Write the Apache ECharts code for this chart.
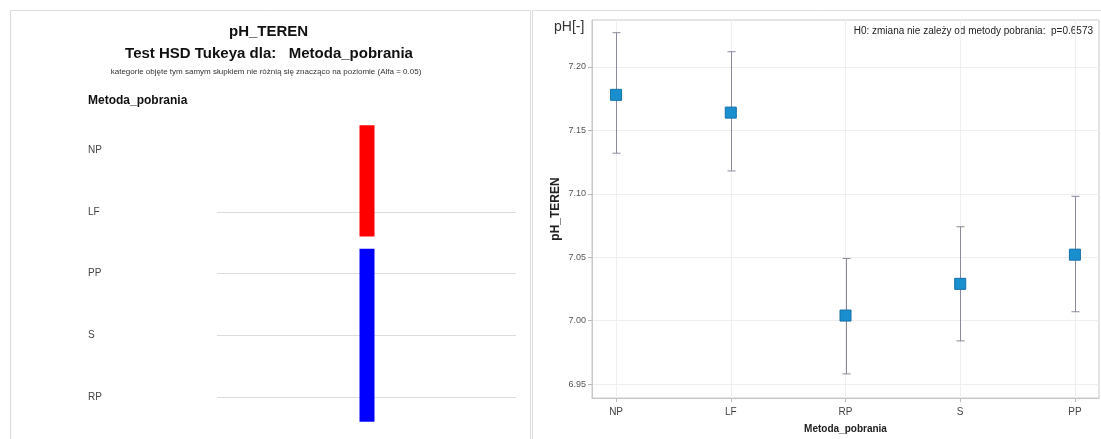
<!DOCTYPE html>
<html>
<head>
<meta charset="utf-8">
<script src="https://cdn.jsdelivr.net/npm/echarts@6/dist/echarts.min.js"></script>
<style>html,body{margin:0;padding:0;background:#fff;}#c{width:1101px;height:439px;}</style>
</head>
<body>
<div id="c"></div>
<script>
// ---- data ----
const tukeyRows = ['NP', 'LF', 'PP', 'S', 'RP'];
const groupStart = [0, 2];
const groupEnd = [1, 4];
const categories = ['NP', 'LF', 'RP', 'S', 'PP'];
const means = [7.178, 7.164, 7.004, 7.029, 7.052];
const upper = [7.227, 7.212, 7.049, 7.074, 7.098];
const lower = [7.132, 7.118, 6.958, 6.984, 7.007];
const yTicks = [6.95, 7.00, 7.05, 7.10, 7.15, 7.20];

const FONT = 'Arial, "Liberation Sans", sans-serif';
const chart = echarts.init(document.getElementById('c'));
const groupColors = ['#ff0000', '#0000ff'];

const option = {
  animation: false,
  backgroundColor: '#fff',
  textStyle: { fontFamily: FONT },
  graphic: [
    { type: 'rect', shape: { x: 10.5, y: 10.5, width: 520, height: 440 }, style: { fill: 'none', stroke: '#dcdcdc', lineWidth: 1 }, silent: true },
    { type: 'rect', shape: { x: 532.5, y: 10.5, width: 580, height: 440 }, style: { fill: 'none', stroke: '#dcdcdc', lineWidth: 1 }, silent: true },
    { type: 'text', left: 229, top: 24, style: { text: 'pH_TEREN', font: 'bold 15px ' + FONT, fill: '#111' } },
    { type: 'text', x: 269, y: 54, style: { text: 'Test HSD Tukeya dla:   Metoda_pobrania', font: 'bold 15px ' + FONT, fill: '#111', align: 'center', verticalAlign: 'middle' } },
    { type: 'text', x: 266, y: 72, style: { text: 'kategorie objęte tym samym słupkiem nie różnią się znacząco na poziomie (Alfa = 0.05)', font: '8px ' + FONT, fill: '#333', align: 'center', verticalAlign: 'middle' } },
    { type: 'text', x: 88, y: 101, style: { text: 'Metoda_pobrania', font: 'bold 12px ' + FONT, fill: '#111', align: 'left', verticalAlign: 'middle' } },
    { type: 'text', x: 554, y: 27, style: { text: 'pH[-]', font: '14px ' + FONT, fill: '#333', align: 'left', verticalAlign: 'middle' } },
    { type: 'text', x: 1093, y: 31, style: { text: 'H0: zmiana nie zależy od metody pobrania:  p=0.6573', font: '10px ' + FONT, fill: '#222', align: 'right', verticalAlign: 'middle' } }
  ],
  grid: [
    { left: 217, right: 585, top: 150, bottom: 42 },
    { left: 592, right: 2, top: 20, bottom: 41, show: true, borderColor: '#c8c8c8', borderWidth: 1, backgroundColor: 'transparent' }
  ],
  xAxis: [
    { gridIndex: 0, type: 'value', min: 0, max: 1, show: false },
    {
      gridIndex: 1, type: 'value', min: -0.21, max: 4.21,
      name: 'Metoda_pobrania', nameLocation: 'middle', nameGap: 26,
      nameTextStyle: { fontWeight: 'bold', fontSize: 10, color: '#222', fontFamily: FONT },
      axisLine: { show: true, onZero: false, lineStyle: { color: '#c8c8c8' } },
      axisTick: { show: true, length: 4, lineStyle: { color: '#bbb' }, customValues: [0, 1, 2, 3, 4] },
      axisLabel: { customValues: [0, 1, 2, 3, 4], formatter: v => categories[Math.round(v)] || '', fontSize: 10, color: '#444', margin: 9, fontFamily: FONT },
      splitLine: { show: true, lineStyle: { color: '#efefef' } }
    }
  ],
  yAxis: [
    {
      gridIndex: 0, type: 'value', inverse: true, min: 0, max: 4,
      axisLine: { show: false },
      axisTick: { show: false, customValues: [1, 2, 3, 4] },
      axisLabel: { customValues: [0, 1, 2, 3, 4], formatter: v => tukeyRows[Math.round(v)] || '', align: 'left', margin: 129, fontSize: 10, color: '#444', fontFamily: FONT },
      splitLine: { show: true, lineStyle: { color: '#dcdcdc', width: 1 } }
    },
    {
      gridIndex: 1, type: 'value', min: 6.939, max: 7.237,
      name: 'pH_TEREN', nameLocation: 'middle', nameGap: 30, nameRotate: 90,
      nameTextStyle: { fontWeight: 'bold', fontSize: 12, color: '#222', fontFamily: FONT },
      axisLine: { show: true, onZero: false, lineStyle: { color: '#c8c8c8' } },
      axisTick: { show: true, length: 4, lineStyle: { color: '#bbb' }, customValues: yTicks },
      axisLabel: { customValues: yTicks, formatter: v => v.toFixed(2), fontSize: 9, color: '#555', margin: 6, fontFamily: FONT },
      splitLine: { show: true, lineStyle: { color: '#efefef' } }
    }
  ],
  series: [
    {
      type: 'custom', xAxisIndex: 0, yAxisIndex: 0,
      data: groupStart.map((s, i) => [s, groupEnd[i]]),
      renderItem: (params, api) => {
        const top = api.coord([0.5, api.value(0) - 0.4]);
        const bot = api.coord([0.5, api.value(1) + 0.4]);
        return { type: 'rect', shape: { x: top[0] - 7, y: top[1], width: 15, height: bot[1] - top[1] }, style: { fill: groupColors[params.dataIndex % groupColors.length] } };
      }
    },
    {
      type: 'custom', xAxisIndex: 1, yAxisIndex: 1,
      data: categories.map((c, i) => [i, lower[i], upper[i]]),
      renderItem: (params, api) => {
        const lo = api.coord([api.value(0), api.value(1)]);
        const hi = api.coord([api.value(0), api.value(2)]);
        const st = { stroke: '#8a8a9c', lineWidth: 1 };
        const x = Math.round(lo[0]) + 0.5;
        return { type: 'group', children: [
          { type: 'line', shape: { x1: x, y1: lo[1], x2: x, y2: hi[1] }, style: st },
          { type: 'line', shape: { x1: x - 4, y1: lo[1], x2: x + 4, y2: lo[1] }, style: st },
          { type: 'line', shape: { x1: x - 4, y1: hi[1], x2: x + 4, y2: hi[1] }, style: st }
        ] };
      }
    },
    {
      type: 'scatter', xAxisIndex: 1, yAxisIndex: 1,
      symbol: 'rect', symbolSize: 11,
      itemStyle: { color: '#1a8fd0', borderColor: '#136fa8', borderWidth: 1, opacity: 1 },
      data: categories.map((c, i) => [i, means[i]]),
      z: 5
    }
  ]
};
chart.setOption(option);
</script>
</body>
</html>
